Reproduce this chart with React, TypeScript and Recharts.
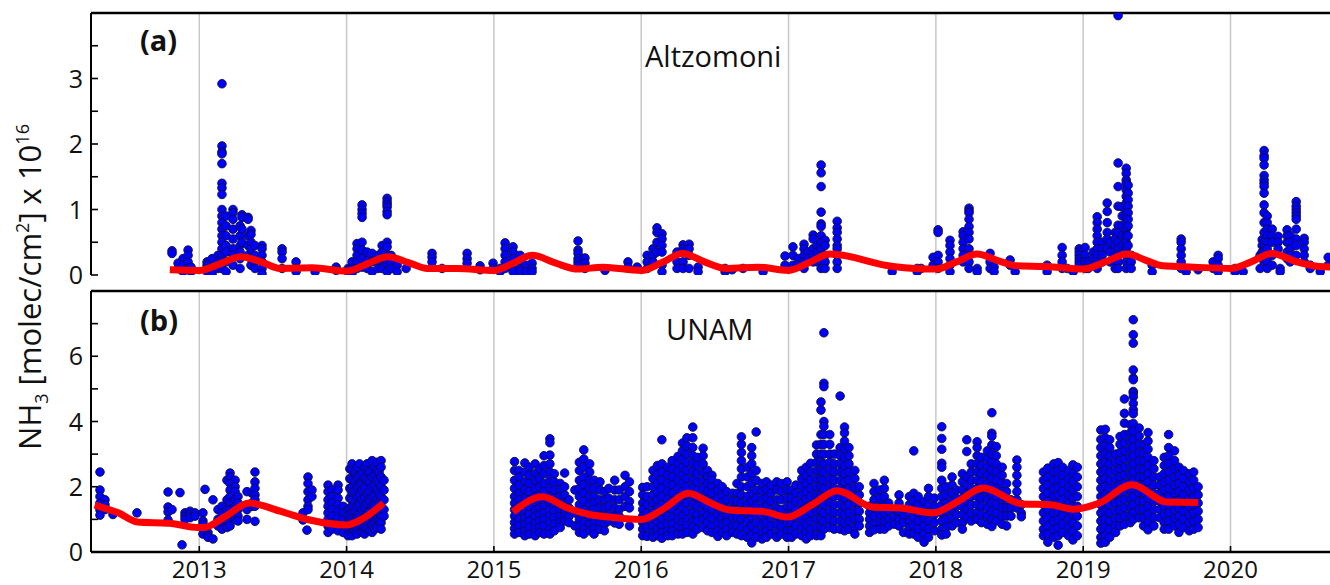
import React from 'react';
import { ScatterChart, Scatter, XAxis, YAxis, CartesianGrid, ReferenceLine } from 'recharts';

type Col = [number, number[]];

const X_DOMAIN: [number, number] = [2012.265, 2020.75];
const yearTicks = [2013, 2014, 2015, 2016, 2017, 2018, 2019, 2020];
const altzTicks = [0, 0.5, 1, 1.5, 2, 2.5, 3, 3.5];
const unamTicks = [0, 1, 2, 3, 4, 5, 6, 7];

// Panel (a) Altzomoni: [decimal year, column of values]
const altzCols: Col[] = [
  [2012.815, [0.37, 0.33]], [2012.856, [0.1, 0.18]], [2012.89, [0.25, 0.15, 0.05]], [2012.924, [0.38, 0.3, 0.2, 0.1]], [2012.944, [0.12, 0.05]],
  [2013.053, [0.2, 0.15, 0.1, 0.05]], [2013.087, [0.25, 0.1, 0.02]], [2013.127, [0.3, 0.2, 0.1]],
  [2013.154, [2.92, 1.97, 1.88, 1.85, 1.7, 1.4, 1.33, 1.23, 1.0, 0.9, 0.8, 0.7, 0.6, 0.5, 0.4, 0.3, 0.2, 0.1]],
  [2013.182, [0.9, 0.75, 0.6, 0.45, 0.35, 0.2, 0.05]], [2013.229, [1.0, 0.95, 0.85, 0.7, 0.55, 0.4, 0.3, 0.15]],
  [2013.277, [0.75, 0.6, 0.45, 0.35, 0.25, 0.1]], [2013.29, [0.92, 0.88, 0.7, 0.5]], [2013.331, [0.88, 0.85, 0.6, 0.45, 0.3]],
  [2013.351, [0.68, 0.62, 0.5, 0.4, 0.25, 0.15]], [2013.378, [0.45, 0.3, 0.2, 0.1]], [2013.426, [0.45, 0.4, 0.3, 0.2, 0.1, 0.02]],
  [2013.562, [0.4, 0.35, 0.25, 0.1]], [2013.657, [0.2, 0.1, 0.05]], [2013.786, [0.05]], [2013.929, [0.12, 0.07]],
  [2014.01, [0.1, 0.05]], [2014.037, [0.2, 0.1, 0.03]], [2014.071, [0.48, 0.4, 0.3, 0.2, 0.1]],
  [2014.105, [1.07, 1.0, 0.94, 0.88, 0.5, 0.38, 0.25, 0.12]], [2014.139, [0.35, 0.22, 0.1]], [2014.173, [0.33, 0.2, 0.05]],
  [2014.214, [0.3, 0.2, 0.1]], [2014.241, [0.45, 0.35, 0.25, 0.1]],
  [2014.275, [1.17, 1.12, 1.08, 1.04, 0.97, 0.92, 0.5, 0.43, 0.3, 0.18, 0.05]], [2014.302, [0.3, 0.2, 0.1]],
  [2014.343, [0.15, 0.05]], [2014.404, [0.1]], [2014.58, [0.33, 0.27, 0.2]], [2014.648, [0.1]], [2014.818, [0.33, 0.25, 0.18]],
  [2014.906, [0.14, 0.08]], [2014.994, [0.18, 0.1]],
  [2015.042, [0.1, 0.05]], [2015.076, [0.49, 0.4, 0.3, 0.2, 0.1]], [2015.13, [0.43, 0.35, 0.25, 0.1, 0.05]],
  [2015.178, [0.3, 0.2, 0.1, 0.05]], [2015.218, [0.15, 0.05]], [2015.259, [0.18, 0.1, 0.05]],
  [2015.571, [0.52, 0.38, 0.33, 0.25, 0.2, 0.15]], [2015.618, [0.26, 0.18, 0.1]], [2015.754, [0.07]], [2015.91, [0.2, 0.12]], [2015.972, [0.12]],
  [2016.04, [0.3, 0.2, 0.1]], [2016.08, [0.4, 0.3, 0.2]], [2016.107, [0.72, 0.65, 0.5, 0.35]], [2016.141, [0.63, 0.55, 0.45, 0.35, 0.15, 0.05]],
  [2016.243, [0.35, 0.2, 0.1]], [2016.284, [0.46, 0.4, 0.35, 0.2, 0.1]], [2016.325, [0.47, 0.4, 0.3, 0.1]], [2016.386, [0.12, 0.05]],
  [2016.569, [0.05, 0.1]], [2016.617, [0.08]], [2016.691, [0.1]], [2016.827, [0.05]], [2016.976, [0.29, 0.15]],
  [2017.03, [0.43, 0.3, 0.15]], [2017.065, [0.25, 0.15]], [2017.105, [0.47, 0.4, 0.3, 0.2, 0.1]], [2017.132, [0.35, 0.25]],
  [2017.167, [0.61, 0.55, 0.4, 0.3, 0.2]], [2017.194, [0.45, 0.35, 0.2]],
  [2017.221, [1.68, 1.56, 1.35, 0.96, 0.78, 0.74, 0.6, 0.5, 0.4, 0.3, 0.2, 0.1]], [2017.248, [0.53, 0.45, 0.3, 0.2, 0.1]],
  [2017.33, [0.82, 0.72, 0.65, 0.55, 0.45, 0.4, 0.3, 0.2, 0.1]], [2017.703, [0.05]], [2017.873, [0.1, 0.05]], [2017.9, [0.1]], [2017.981, [0.27, 0.15]],
  [2018.015, [0.69, 0.65, 0.3, 0.2, 0.1]], [2018.096, [0.53, 0.45, 0.35, 0.25, 0.15, 0.05]], [2018.185, [0.66, 0.6, 0.5, 0.4, 0.3, 0.2]],
  [2018.225, [1.02, 0.98, 0.95, 0.85, 0.74, 0.65, 0.55, 0.4, 0.3, 0.2, 0.1]], [2018.28, [0.1, 0.05]], [2018.368, [0.33, 0.2, 0.1]],
  [2018.395, [0.12, 0.05]], [2018.504, [0.23, 0.15]], [2018.538, [0.05]], [2018.755, [0.15, 0.05]], [2018.857, [0.42, 0.3, 0.2, 0.1]],
  [2018.891, [0.1]], [2018.932, [0.05]], [2018.973, [0.4, 0.35, 0.3, 0.25, 0.2, 0.15]],
  [2019.013, [0.42, 0.3, 0.2, 0.1]], [2019.034, [0.2, 0.1]], [2019.068, [0.35, 0.25, 0.15]], [2019.095, [0.89, 0.8, 0.7, 0.6, 0.5, 0.4, 0.3, 0.2, 0.1]],
  [2019.129, [0.5, 0.4, 0.3, 0.2]], [2019.163, [1.1, 0.97, 0.8, 0.65, 0.55, 0.4]], [2019.183, [0.5, 0.35, 0.2]],
  [2019.217, [0.65, 0.55, 0.45, 0.3, 0.2, 0.1]], [2019.237, [3.96, 1.71, 1.35, 1.05, 0.76, 0.65, 0.5, 0.4, 0.3, 0.2, 0.1]],
  [2019.265, [1.04, 0.9, 0.75, 0.6, 0.45]],
  [2019.292, [1.63, 1.55, 1.45, 1.4, 1.3, 1.2, 1.1, 1.0, 0.9, 0.8, 0.7, 0.6, 0.5, 0.4, 0.3, 0.2, 0.1]],
  [2019.305, [1.37, 1.25, 1.15, 1.05, 0.95, 0.85, 0.75, 0.6, 0.45, 0.3, 0.15]], [2019.326, [0.3, 0.2, 0.1]],
  [2019.468, [0.15, 0.05]], [2019.665, [0.55, 0.5, 0.4, 0.3, 0.2, 0.1]], [2019.699, [0.05]], [2019.78, [0.08]],
  [2019.882, [0.2, 0.1]], [2019.916, [0.3, 0.25, 0.15, 0.05]], [2020.031, [0.1, 0.05]], [2020.086, [0.05]],
  [2020.201, [0.3, 0.1]], [2020.215, [0.54, 0.45, 0.35]],
  [2020.228, [1.9, 1.82, 1.78, 1.68, 1.52, 1.45, 1.4, 1.35, 1.25, 1.07, 0.95, 0.8, 0.65, 0.5, 0.35, 0.2]],
  [2020.249, [0.9, 0.8, 0.7, 0.6, 0.5, 0.4, 0.3, 0.2, 0.1]], [2020.283, [0.7, 0.6, 0.5, 0.3, 0.15]], [2020.323, [0.59, 0.5, 0.4]],
  [2020.337, [0.1, 0.05]], [2020.384, [0.69, 0.6, 0.5, 0.35, 0.25]], [2020.405, [0.6, 0.5, 0.4, 0.3, 0.2]],
  [2020.446, [1.12, 1.05, 1.0, 0.95, 0.9, 0.85, 0.7, 0.55, 0.45, 0.3]], [2020.5, [0.56, 0.5, 0.4, 0.3, 0.2]],
  [2020.541, [0.15, 0.1]], [2020.609, [0.1, 0.05]], [2020.663, [0.27, 0.15]],
];

// Panel (b) UNAM
const unamCols: Col[] = [
  [2012.326, [2.45, 1.9, 1.7, 1.5, 1.29, 1.13]], [2012.36, [1.6, 1.45, 1.3]], [2012.414, [1.15]], [2012.577, [1.2]],
  [2012.788, [1.84, 1.38, 1.23, 0.98]], [2012.815, [1.3]], [2012.869, [1.82]], [2012.883, [0.22]],
  [2012.903, [1.2, 1.1, 1.0]], [2012.937, [1.25, 1.15, 1.05]], [2012.971, [1.2, 1.1]],
  [2013.025, [1.2, 0.95, 0.85, 0.7, 0.55]], [2013.039, [1.92]], [2013.059, [0.6, 0.5, 0.45]], [2013.093, [1.6, 0.4]],
  [2013.127, [1.3, 1.0, 0.8]], [2013.154, [1.4, 1.2, 0.85, 0.7]], [2013.188, [2.2, 1.6, 1.3, 0.9, 0.75]],
  [2013.209, [2.42, 2.3, 2.1, 1.9, 1.7, 1.5, 1.3, 1.1, 0.9, 0.8]], [2013.243, [2.2, 2.0, 1.85, 1.6, 1.4, 1.2, 1.0]],
  [2013.263, [1.7, 1.5, 1.3, 1.1, 0.95]], [2013.324, [1.85, 1.3, 1.0]], [2013.358, [1.8, 1.5, 1.4]],
  [2013.378, [2.45, 2.15, 1.95, 1.75, 1.6, 1.4, 0.94]],
  [2013.704, [1.2, 0.98]], [2013.731, [0.67]], [2013.738, [2.3, 2.1, 1.85, 1.6, 1.4, 1.3]], [2013.765, [1.9, 1.7]],
  [2013.874, [2.05, 1.85, 1.6, 1.4, 1.2, 1.0, 0.8, 0.6]], [2013.901, [1.9, 1.7, 1.5, 1.3, 1.1, 0.9, 0.7]],
  [2013.942, [2.05, 1.9, 1.65, 1.45, 1.25, 1.05, 0.85, 0.65]], [2013.976, [1.4, 1.2, 1.0, 0.8, 0.6]],
  [2014.01, [1.3, 1.1, 0.9, 0.7, 0.5]], [2014.022, [2.55, 2.25, 1.95, 1.65, 1.35, 1.05, 0.75]],
  [2014.037, [2.7, 2.5, 2.2, 2.0, 1.8, 1.6, 1.4, 1.2, 1.0, 0.8, 0.6, 0.5]], [2014.055, [2.45, 2.15, 1.85, 1.55, 1.25, 0.95, 0.65]],
  [2014.071, [2.6, 2.3, 2.0, 1.7, 1.4, 1.1, 0.9, 0.7, 0.55]], [2014.088, [2.7, 2.35, 2.05, 1.75, 1.45, 1.15, 0.8]],
  [2014.105, [2.4, 2.1, 1.9, 1.6, 1.3, 1.0, 0.8, 0.6]], [2014.122, [2.6, 2.25, 1.95, 1.65, 1.35, 1.05, 0.75, 0.55]],
  [2014.139, [2.7, 2.5, 2.2, 1.8, 1.5, 1.2, 0.9, 0.7]], [2014.156, [2.45, 2.15, 1.85, 1.55, 1.25, 0.95, 0.65]],
  [2014.173, [2.8, 2.3, 2.0, 1.7, 1.4, 1.1, 0.85, 0.6]], [2014.19, [2.6, 2.35, 2.05, 1.75, 1.45, 1.15, 0.9, 0.7]],
  [2014.207, [2.75, 2.5, 2.2, 1.9, 1.6, 1.3, 1.0, 0.75]], [2014.22, [2.45, 2.1, 1.8, 1.5, 1.2, 0.95]],
  [2014.234, [2.8, 2.6, 2.3, 2.0, 1.7, 1.4, 1.1, 0.9, 0.7]], [2014.254, [2.2, 1.9, 1.6, 1.3, 1.1]],
  [2015.14, [2.77, 2.5, 2.2, 1.95, 1.7, 1.5, 1.3, 1.1, 0.9, 0.72, 0.55]], [2015.17, [2.5, 2.3, 2.05, 1.8, 1.6, 1.4, 1.2, 1.0, 0.8, 0.6]],
  [2015.21, [2.73, 2.45, 2.15, 1.9, 1.65, 1.45, 1.25, 1.05, 0.85, 0.65, 0.5]], [2015.24, [2.6, 2.35, 2.1, 1.85, 1.6, 1.35, 1.15, 0.95, 0.75, 0.55]],
  [2015.28, [2.7, 2.4, 2.2, 1.95, 1.7, 1.5, 1.3, 1.1, 0.9, 0.7, 0.5]], [2015.31, [2.55, 2.25, 2.0, 1.75, 1.55, 1.35, 1.15, 0.95, 0.75, 0.6]],
  [2015.34, [2.95, 2.65, 2.4, 2.1, 1.85, 1.6, 1.4, 1.2, 1.0, 0.8, 0.55]],
  [2015.38, [3.47, 3.35, 2.97, 2.7, 2.45, 2.2, 1.95, 1.7, 1.5, 1.3, 1.1, 0.9, 0.7, 0.55]],
  [2015.41, [2.4, 2.15, 1.9, 1.65, 1.45, 1.25, 1.05, 0.85, 0.65]], [2015.45, [2.1, 1.9, 1.7, 1.5, 1.3, 1.1, 0.9, 0.75]],
  [2015.48, [2.42, 2.0, 1.75, 1.5, 1.3, 1.1, 0.95]], [2015.51, [1.6, 1.35, 1.1, 0.9]], [2015.55, [1.9, 1.2, 0.8]],
  [2015.58, [2.75, 2.5, 2.2, 1.95, 1.7, 1.45, 1.2, 1.0, 0.8, 0.6]],
  [2015.61, [3.13, 2.85, 2.6, 2.3, 2.05, 1.8, 1.55, 1.3, 1.1, 0.9, 0.7, 0.55]],
  [2015.65, [2.7, 2.45, 2.2, 1.95, 1.7, 1.45, 1.25, 1.05, 0.85, 0.65]], [2015.68, [2.2, 1.95, 1.7, 1.5, 1.3, 1.1, 0.9, 0.7, 0.55]],
  [2015.72, [2.15, 1.9, 1.6, 1.35, 1.1, 0.9, 0.7]], [2015.75, [1.85, 1.6, 1.35, 1.1, 0.85, 0.65]], [2015.78, [1.95, 1.65, 1.4, 1.15, 0.95]],
  [2015.82, [2.2, 1.9, 1.6, 1.35, 1.1, 0.89]], [2015.85, [1.9, 1.6, 1.3, 1.1, 0.85]], [2015.89, [2.35, 2.0, 1.7, 1.4]], [2015.92, [2.15, 1.85, 1.55, 1.35, 0.8]],
  [2016.01, [1.98, 1.75, 1.5, 1.3, 1.1, 0.9, 0.7, 0.5]], [2016.04, [2.0, 1.7, 1.45, 1.2, 0.95, 0.75, 0.48]],
  [2016.08, [2.5, 2.25, 2.0, 1.75, 1.5, 1.25, 1.0, 0.8, 0.6, 0.45]], [2016.11, [2.65, 2.4, 2.1, 1.85, 1.6, 1.35, 1.1, 0.9, 0.7, 0.5]],
  [2016.14, [3.44, 2.7, 2.45, 2.2, 1.95, 1.7, 1.45, 1.2, 1.0, 0.8, 0.6, 0.42]],
  [2016.18, [2.6, 2.35, 2.1, 1.85, 1.6, 1.35, 1.1, 0.85, 0.65, 0.5]],
  [2016.21, [2.8, 2.55, 2.3, 2.05, 1.8, 1.55, 1.3, 1.05, 0.85, 0.65, 0.5]],
  [2016.25, [2.93, 2.7, 2.45, 2.2, 1.95, 1.7, 1.45, 1.2, 1.0, 0.8, 0.55]],
  [2016.28, [3.34, 3.1, 2.85, 2.6, 2.35, 2.1, 1.85, 1.6, 1.35, 1.1, 0.9, 0.7, 0.55]],
  [2016.31, [3.5, 3.25, 3.0, 2.75, 2.5, 2.25, 2.0, 1.75, 1.5, 1.25, 1.0, 0.8, 0.6]],
  [2016.35, [3.83, 3.5, 3.2, 2.95, 2.7, 2.45, 2.2, 1.95, 1.7, 1.45, 1.2, 0.95, 0.75, 0.55]],
  [2016.38, [2.9, 2.65, 2.4, 2.15, 1.9, 1.65, 1.4, 1.15, 0.95, 0.7]],
  [2016.42, [3.18, 2.95, 2.7, 2.45, 2.2, 1.95, 1.7, 1.45, 1.2, 1.0, 0.75]],
  [2016.45, [2.5, 2.3, 2.1, 1.85, 1.6, 1.35, 1.1, 0.9, 0.65]], [2016.48, [2.35, 2.2, 2.0, 1.8, 1.55, 1.3, 1.05, 0.8, 0.6]],
  [2016.52, [2.1, 1.9, 1.65, 1.4, 1.15, 0.9, 0.65, 0.48]], [2016.55, [2.0, 1.75, 1.5, 1.25, 1.05, 0.85, 0.6]],
  [2016.58, [1.85, 1.6, 1.35, 1.1, 0.9, 0.7, 0.5]], [2016.62, [1.8, 1.55, 1.3, 1.05, 0.8, 0.6]],
  [2016.65, [2.1, 1.8, 1.55, 1.3, 1.05, 0.8, 0.55]],
  [2016.68, [3.53, 3.3, 3.05, 2.8, 2.55, 2.3, 2.0, 1.75, 1.5, 1.25, 1.0, 0.75, 0.5]],
  [2016.72, [2.6, 2.3, 2.0, 1.7, 1.45, 1.2, 0.95, 0.7, 0.45]],
  [2016.75, [3.2, 2.95, 2.7, 2.4, 2.1, 1.8, 1.55, 1.3, 1.05, 0.8, 0.55, 0.28]],
  [2016.78, [3.68, 2.5, 2.2, 1.9, 1.65, 1.4, 1.15, 0.9, 0.65, 0.45]],
  [2016.82, [2.1, 1.85, 1.6, 1.35, 1.1, 0.85, 0.6, 0.4]], [2016.85, [2.15, 1.9, 1.65, 1.4, 1.15, 0.9, 0.65, 0.45]],
  [2016.88, [2.05, 1.8, 1.55, 1.3, 1.05, 0.8, 0.55]], [2016.92, [2.15, 1.9, 1.6, 1.35, 1.1, 0.85, 0.6, 0.45]],
  [2016.95, [2.1, 1.85, 1.6, 1.3, 1.05, 0.8, 0.55]], [2016.99, [2.15, 1.9, 1.65, 1.4, 1.15, 0.9, 0.65, 0.45]],
  [2017.02, [1.9, 1.65, 1.4, 1.15, 0.9, 0.65, 0.45]], [2017.05, [2.05, 1.8, 1.55, 1.3, 1.05, 0.8, 0.55]],
  [2017.09, [2.5, 2.25, 2.0, 1.75, 1.5, 1.25, 1.0, 0.75, 0.5]], [2017.12, [2.6, 2.35, 2.1, 1.85, 1.6, 1.35, 1.1, 0.85, 0.6, 0.4]],
  [2017.15, [2.72, 2.45, 2.2, 1.95, 1.7, 1.45, 1.2, 0.95, 0.7, 0.5]],
  [2017.19, [3.28, 3.0, 2.75, 2.5, 2.25, 2.0, 1.75, 1.5, 1.25, 1.0, 0.75, 0.5]],
  [2017.22, [4.6, 4.35, 3.6, 3.3, 3.0, 2.75, 2.5, 2.25, 2.0, 1.75, 1.5, 1.25, 1.0, 0.75, 0.5]],
  [2017.24, [6.72, 5.17, 5.07, 4.0, 3.85, 3.6, 3.3, 3.0, 2.7, 2.45, 2.2, 1.95, 1.7, 1.45, 1.2, 0.95, 0.7]],
  [2017.28, [3.6, 3.3, 3.0, 2.75, 2.5, 2.25, 2.0, 1.75, 1.5, 1.25, 1.0, 0.75]],
  [2017.31, [3.0, 2.7, 2.45, 2.2, 1.95, 1.7, 1.45, 1.2, 0.95, 0.7]],
  [2017.35, [4.78, 3.2, 2.95, 2.7, 2.45, 2.2, 1.95, 1.7, 1.45, 1.2, 0.95, 0.7]],
  [2017.38, [3.83, 3.65, 3.4, 3.15, 2.9, 2.65, 2.4, 2.15, 1.9, 1.65, 1.4, 1.15, 0.9, 0.65]],
  [2017.41, [3.2, 2.95, 2.7, 2.45, 2.2, 1.95, 1.7, 1.45, 1.2, 0.95, 0.7]],
  [2017.45, [2.5, 2.25, 2.0, 1.75, 1.5, 1.25, 1.0, 0.75, 0.55]], [2017.48, [2.0, 1.75, 1.5, 1.25, 1.0, 0.8]],
  [2017.55, [1.4, 1.2, 1.0, 0.8, 0.6]], [2017.58, [2.1, 1.85, 1.6, 1.35, 1.1, 0.85, 0.68]],
  [2017.62, [1.9, 1.65, 1.4, 1.15, 0.9, 0.7]], [2017.65, [2.2, 1.95, 1.7, 1.45, 1.2, 0.95, 0.7]],
  [2017.68, [1.5, 1.25, 1.0, 0.8]], [2017.72, [1.3, 1.05, 0.85]], [2017.75, [1.75, 1.5, 1.25, 1.0, 0.8]],
  [2017.78, [1.3, 1.1, 0.9, 0.6]], [2017.82, [1.7, 1.45, 1.2, 0.95, 0.75, 0.55]],
  [2017.85, [3.1, 1.8, 1.55, 1.3, 1.05, 0.8, 0.55]], [2017.88, [1.7, 1.45, 1.2, 0.95, 0.7, 0.45]],
  [2017.92, [1.55, 1.3, 1.05, 0.8, 0.55, 0.3]], [2017.95, [1.95, 1.7, 1.45, 1.2, 0.95, 0.7, 0.45]], [2017.99, [1.65, 1.4, 1.15, 0.9, 0.65]],
  [2018.04, [3.84, 3.48, 3.15, 2.72, 2.6, 2.2, 1.95, 1.7, 1.45, 1.2, 0.95, 0.7, 0.52]],
  [2018.07, [2.0, 1.75, 1.5, 1.25, 1.0, 0.75, 0.55]], [2018.11, [2.3, 2.05, 1.8, 1.55, 1.3, 1.05, 0.8]],
  [2018.14, [1.9, 1.65, 1.4, 1.15, 0.9]], [2018.18, [2.4, 2.15, 1.9, 1.65, 1.4, 1.15, 0.9, 0.7]],
  [2018.21, [3.44, 3.08, 2.3, 2.05, 1.8, 1.55, 1.3, 1.05]], [2018.24, [2.7, 2.45, 2.2, 1.95, 1.7, 1.45, 1.2, 0.95]],
  [2018.28, [3.38, 3.2, 2.95, 2.7, 2.45, 2.2, 1.95, 1.7, 1.45, 1.2, 1.0]],
  [2018.31, [2.9, 2.65, 2.4, 2.15, 1.9, 1.65, 1.4, 1.15, 0.9]], [2018.35, [3.1, 2.85, 2.6, 2.35, 2.1, 1.85, 1.6, 1.35, 1.1, 0.85]],
  [2018.38, [4.27, 3.64, 3.55, 3.28, 3.0, 2.75, 2.5, 2.25, 2.0, 1.75, 1.5, 1.25, 1.0, 0.78]],
  [2018.41, [3.23, 2.95, 2.7, 2.45, 2.2, 1.95, 1.7, 1.45, 1.2, 0.95]], [2018.45, [2.6, 2.35, 2.1, 1.85, 1.6, 1.35, 1.1, 0.85]],
  [2018.48, [2.1, 1.85, 1.6, 1.35, 1.1, 0.8]], [2018.51, [1.6, 1.35, 1.1]], [2018.55, [2.82, 2.6, 2.35, 2.1, 1.85, 1.6, 1.35]],
  [2018.58, [1.45, 1.19, 1.08]],
  [2018.73, [2.45, 2.2, 1.95, 1.7, 1.45, 1.2, 0.95, 0.7, 0.5]], [2018.76, [2.57, 2.3, 2.05, 1.8, 1.55, 1.3, 1.05, 0.8, 0.55, 0.3]],
  [2018.8, [2.7, 2.45, 2.2, 1.95, 1.7, 1.45, 1.2, 0.95, 0.7, 0.45]], [2018.83, [2.74, 2.5, 2.25, 2.0, 1.75, 1.5, 1.25, 1.0, 0.75, 0.5, 0.21]],
  [2018.86, [2.6, 2.35, 2.1, 1.85, 1.6, 1.35, 1.1, 0.85, 0.6]], [2018.9, [2.5, 2.25, 2.0, 1.75, 1.5, 1.25, 1.0, 0.75, 0.5]],
  [2018.93, [2.67, 2.4, 2.15, 1.9, 1.65, 1.4, 1.15, 0.9, 0.65, 0.37]], [2018.96, [2.6, 2.3, 2.0, 1.7, 1.4, 1.1, 0.8, 0.5]],
  [2019.12, [3.74, 3.45, 3.2, 2.95, 2.7, 2.45, 2.2, 1.95, 1.7, 1.45, 1.2, 0.95, 0.7, 0.45, 0.27]],
  [2019.15, [3.76, 3.5, 3.25, 3.0, 2.75, 2.5, 2.25, 2.0, 1.75, 1.5, 1.25, 1.0, 0.75, 0.5, 0.3]],
  [2019.18, [3.44, 3.2, 2.95, 2.7, 2.45, 2.2, 1.95, 1.7, 1.45, 1.2, 0.95, 0.7, 0.45]],
  [2019.22, [3.0, 2.75, 2.5, 2.25, 2.0, 1.75, 1.5, 1.25, 1.0, 0.8, 0.6]],
  [2019.25, [3.54, 3.3, 3.05, 2.8, 2.55, 2.3, 2.05, 1.8, 1.55, 1.3, 1.05, 0.8]],
  [2019.28, [4.69, 4.25, 3.95, 3.6, 3.35, 3.1, 2.85, 2.6, 2.35, 2.1, 1.85, 1.6, 1.35, 1.1, 0.85]],
  [2019.32, [3.9, 3.65, 3.4, 3.15, 2.9, 2.65, 2.4, 2.15, 1.9, 1.65, 1.4, 1.15, 0.9]],
  [2019.34, [7.12, 6.66, 6.4, 5.58, 5.33, 5.28, 4.92, 4.87, 4.76, 4.55, 4.36, 4.24, 3.94, 3.7, 3.45, 3.2, 2.95, 2.7, 2.45, 2.2, 1.95, 1.7, 1.45, 1.2, 1.0]],
  [2019.38, [3.8, 3.55, 3.3, 3.05, 2.8, 2.55, 2.3, 2.05, 1.8, 1.55, 1.3, 1.05]],
  [2019.41, [3.3, 3.05, 2.8, 2.55, 2.3, 2.05, 1.8, 1.55, 1.3, 1.05, 0.8]],
  [2019.44, [3.66, 3.4, 3.15, 2.9, 2.65, 2.4, 2.15, 1.9, 1.65, 1.4, 1.15, 0.9, 0.68]],
  [2019.48, [2.8, 2.55, 2.3, 2.05, 1.8, 1.55, 1.3, 1.05, 0.8]], [2019.52, [2.3, 2.05, 1.8, 1.55, 1.3, 1.05]],
  [2019.55, [2.9, 2.65, 2.4, 2.15, 1.9, 1.65, 1.4, 1.15, 0.9, 0.7]],
  [2019.58, [3.6, 3.2, 2.95, 2.7, 2.45, 2.2, 1.95, 1.7, 1.45, 1.2, 0.95, 0.7]],
  [2019.62, [3.1, 2.8, 2.55, 2.3, 2.05, 1.8, 1.55, 1.3, 1.05, 0.8]], [2019.65, [2.6, 2.35, 2.1, 1.85, 1.6, 1.35, 1.1, 0.85, 0.6]],
  [2019.68, [2.5, 2.25, 2.0, 1.75, 1.5, 1.25, 1.0, 0.75]], [2019.72, [2.4, 2.15, 1.9, 1.65, 1.4, 1.15, 0.9, 0.65]],
  [2019.75, [2.45, 2.2, 1.95, 1.7, 1.45, 1.2, 0.95, 0.7]], [2019.78, [2.0, 1.75, 1.5, 1.25, 1.0, 0.75]],
];

// Seasonal fit curves
const altzFit: [number, number][] = [
  [2012.8, 0.08], [2013.0, 0.07], [2013.14, 0.17], [2013.28, 0.28], [2013.42, 0.2], [2013.55, 0.1], [2013.77, 0.11],
  [2014.0, 0.06], [2014.14, 0.17], [2014.28, 0.28], [2014.42, 0.19], [2014.55, 0.1], [2014.75, 0.1],
  [2015.0, 0.07], [2015.13, 0.18], [2015.26, 0.3], [2015.42, 0.18], [2015.57, 0.09], [2015.74, 0.12],
  [2016.0, 0.07], [2016.14, 0.19], [2016.28, 0.33], [2016.43, 0.2], [2016.58, 0.1], [2016.79, 0.12],
  [2017.0, 0.07], [2017.14, 0.19], [2017.28, 0.32], [2017.71, 0.13],
  [2018.0, 0.09], [2018.14, 0.2], [2018.28, 0.32], [2018.42, 0.22], [2018.55, 0.14], [2018.75, 0.13],
  [2019.0, 0.09], [2019.15, 0.2], [2019.3, 0.32], [2019.43, 0.22], [2019.54, 0.14], [2019.75, 0.12],
  [2020.0, 0.1], [2020.14, 0.2], [2020.28, 0.33], [2020.45, 0.2], [2020.6, 0.13], [2020.7, 0.12],
];
const unamFit1: [number, number][] = [
  [2012.29, 1.44], [2012.45, 1.2], [2012.58, 0.92], [2012.8, 0.88], [2012.99, 0.75], [2013.03, 0.75],
  [2013.18, 1.1], [2013.34, 1.5], [2013.55, 1.25], [2013.75, 0.98], [2014.0, 0.83], [2014.12, 1.05], [2014.25, 1.5],
];
const unamFit2: [number, number][] = [
  [2015.13, 1.23], [2015.33, 1.69], [2015.5, 1.35], [2015.65, 1.15], [2015.81, 1.06], [2016.0, 1.0],
  [2016.16, 1.35], [2016.32, 1.8], [2016.47, 1.5], [2016.6, 1.29], [2016.83, 1.24], [2016.99, 1.07],
  [2017.16, 1.45], [2017.33, 1.88], [2017.57, 1.38], [2017.76, 1.35], [2017.98, 1.2],
  [2018.15, 1.55], [2018.32, 1.96], [2018.59, 1.47], [2018.78, 1.45], [2018.93, 1.31],
  [2019.11, 1.5], [2019.33, 2.06], [2019.57, 1.53], [2019.78, 1.52],
];

const toPoints = (cols: Col[]) => cols.flatMap(([x, vs]) => vs.map((y) => ({ x, y })));
const toXY = (arr: [number, number][]) => arr.map(([x, y]) => ({ x, y }));

const FONT = '"Open Sans", "DejaVu Sans", sans-serif';

const Dot = (p: any) => (
  <circle cx={p.cx} cy={p.cy} r={4.3} fill="#0000ff" stroke="#10103a" strokeWidth={0.9} />
);
const NoDot = () => <g />;
const EmptyTick = () => <g />;

const makeYTick = (labelStep: number) => (p: any) => {
  const v = p.payload.value;
  const show = Math.abs(v / labelStep - Math.round(v / labelStep)) < 1e-6;
  return (
    <g>
      <line x1={p.x + 8} x2={p.x + 15} y1={p.y} y2={p.y} stroke="#000" strokeWidth={1.6} />
      {show && (
        <text x={p.x} y={p.y} dy="0.36em" textAnchor="end" fontSize={25} fontFamily={FONT} fill="#111">
          {v}
        </text>
      )}
    </g>
  );
};

const XTick = (p: any) => (
  <g>
    <line x1={p.x} x2={p.x} y1={p.y} y2={p.y - 6} stroke="#000" strokeWidth={1.6} />
    <text x={p.x} y={p.y + 26} textAnchor="middle" fontSize={24} fontFamily={FONT} fill="#111">
      {p.payload.value}
    </text>
  </g>
);

const lineStyle = { stroke: '#ff0000', strokeWidth: 7, strokeLinejoin: 'round' as const, strokeLinecap: 'butt' as const };

export default function App() {
  const altzPts = toPoints(altzCols);
  const unamPts = toPoints(unamCols);
  return (
    <div style={{ position: 'fixed', left: 0, top: 0, width: 1330, height: 585, overflow: 'hidden', background: '#fff' }}>
      <style>{'.recharts-surface{overflow:visible}'}</style>
      <div style={{ position: 'absolute', left: 0, top: 0 }}>
        <ScatterChart width={1345} height={280} margin={{ top: 13, right: 4, left: 0, bottom: 5 }}>
          <CartesianGrid horizontal={false} stroke="#c8c8c8" strokeWidth={1.5} />
          <XAxis type="number" dataKey="x" domain={X_DOMAIN} ticks={yearTicks} interval={0} allowDataOverflow height={0}
            tickSize={0} tickMargin={0} tick={EmptyTick} tickLine={false} axisLine={{ stroke: '#000', strokeWidth: 2.5 }} />
          <YAxis type="number" dataKey="y" domain={[0, 4]} ticks={altzTicks} interval={0} allowDataOverflow width={91}
            tickSize={0} tickMargin={8} tickLine={false} tick={makeYTick(1)} axisLine={{ stroke: '#000', strokeWidth: 2 }} />
          <ReferenceLine y={4} stroke="#000" strokeWidth={2.5} />
          <Scatter data={altzPts} shape={Dot} isAnimationActive={false} />
          <Scatter data={toXY(altzFit)} shape={NoDot} line={lineStyle} lineJointType="monotoneX" isAnimationActive={false} />
        </ScatterChart>
      </div>
      <div style={{ position: 'absolute', left: 0, top: 280 }}>
        <ScatterChart width={1345} height={320} margin={{ top: 11, right: 4, left: 0, bottom: 15 }}>
          <CartesianGrid horizontal={false} stroke="#c8c8c8" strokeWidth={1.5} />
          <XAxis type="number" dataKey="x" domain={X_DOMAIN} ticks={yearTicks} interval={0} allowDataOverflow height={33}
            tickSize={0} tickMargin={0} tickLine={false} tick={XTick} axisLine={{ stroke: '#000', strokeWidth: 2.5 }} />
          <YAxis type="number" dataKey="y" domain={[0, 8]} ticks={unamTicks} interval={0} allowDataOverflow width={91}
            tickSize={0} tickMargin={8} tickLine={false} tick={makeYTick(2)} axisLine={{ stroke: '#000', strokeWidth: 2 }} />
          <ReferenceLine y={8} stroke="#000" strokeWidth={2.5} />
          <Scatter data={unamPts} shape={Dot} isAnimationActive={false} />
          <Scatter data={toXY(unamFit1)} shape={NoDot} line={lineStyle} lineJointType="monotoneX" isAnimationActive={false} />
          <Scatter data={toXY(unamFit2)} shape={NoDot} line={lineStyle} lineJointType="monotoneX" isAnimationActive={false} />
        </ScatterChart>
      </div>
      <svg width={1330} height={585} style={{ position: 'absolute', left: 0, top: 0, pointerEvents: 'none' }}>
        <text x={140} y={51} fontSize={29} fontWeight="bold" fontFamily={FONT} fill="#111">(a)</text>
        <text x={140} y={331} fontSize={29} fontWeight="bold" fontFamily={FONT} fill="#111">(b)</text>
        <text x={645} y={67} fontSize={29} fontFamily={FONT} fill="#111">Altzomoni</text>
        <text x={666} y={340} fontSize={29} fontFamily={FONT} fill="#111">UNAM</text>
        <text transform="rotate(-90)" x={-287} y={41} textAnchor="middle" fontSize={31} fontFamily={FONT} fill="#111">
          NH<tspan dy={7} fontSize={18}>3</tspan>
          <tspan dy={-7}>{'  [molec/cm'}</tspan>
          <tspan dy={-12} fontSize={18}>2</tspan>
          <tspan dy={12}>{'] x 10'}</tspan>
          <tspan dy={-12} fontSize={18}>16</tspan>
        </text>
      </svg>
    </div>
  );
}
